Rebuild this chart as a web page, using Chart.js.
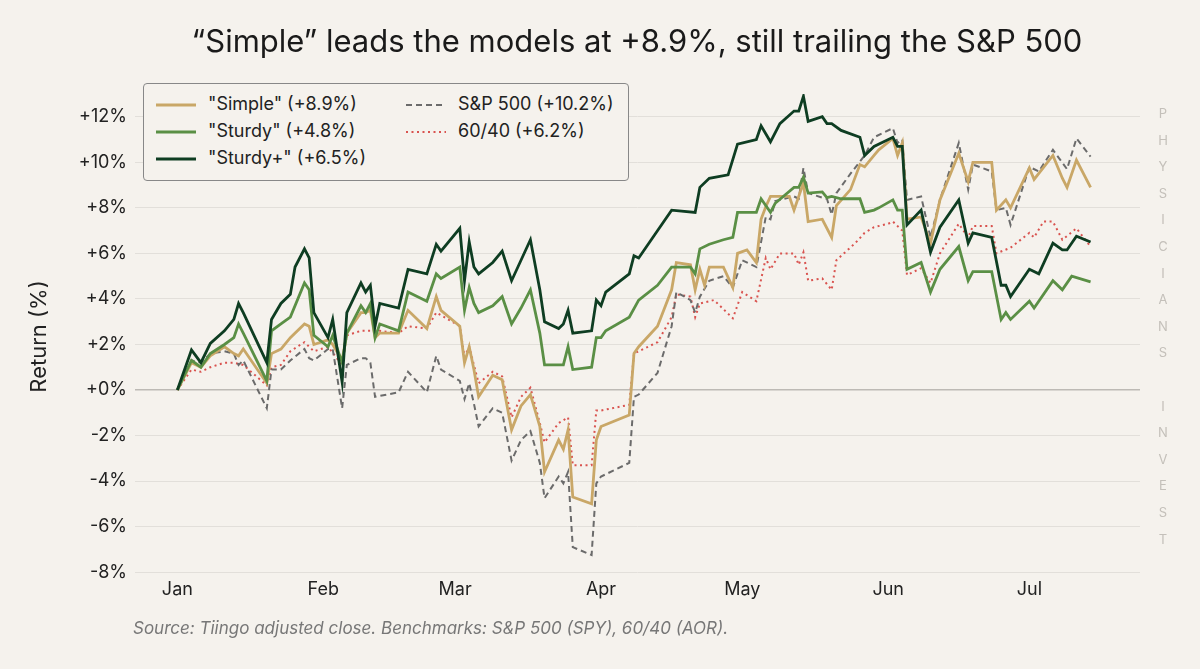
<!DOCTYPE html>
<html>
<head>
<meta charset="utf-8">
<script src="https://cdn.jsdelivr.net/npm/chart.js@4"></script>
<style>
  body { margin: 0; background: #f5f2ed; font-family: Inter, sans-serif; }
  #wrap { position: relative; width: 1200px; height: 669px; }
  #title { position: absolute; left: 0; width: 1274px; top: 22px; text-align: center; font-size: 31px; color: #1a1a1a; }
  #source { position: absolute; left: 133px; top: 618px; font-size: 17px; font-style: italic; color: #777; }
  #side { position: absolute; left: 1153px; top: 100px; width: 20px; font-size: 13px; color: #c4c0ba; text-align: center; line-height: 26.6px; }
  #legend { position: absolute; left: 143px; top: 83px; width: 484px; height: 96px; border: 1px solid #888; border-radius: 4px; background: #f5f2ed; }
  .item { position: absolute; font-size: 18px; color: #222; }
  .item svg { position: absolute; left: 0; top: 5px; }
  .item span { position: absolute; left: 52px; top: 0; white-space: nowrap; }
</style>
</head>
<body>
<div id="wrap">
  <canvas id="myChart" width="1200" height="669"></canvas>
  <div id="title">“Simple” leads the models at +8.9%, still trailing the S&amp;P 500</div>
  <div id="legend"></div>
  <div id="side"></div>
  <div id="source">Source: Tiingo adjusted close. Benchmarks: S&amp;P 500 (SPY), 60/40 (AOR).</div>
</div>
<script>
// x values are days since Jan 1
var monthStarts = [0, 31, 59, 90, 120, 151, 181];
var monthLabels = ['Jan', 'Feb', 'Mar', 'Apr', 'May', 'Jun', 'Jul'];
var yTicks = [-8, -6, -4, -2, 0, 2, 4, 6, 8, 10, 12];

var simpleDays = [0,3,5,7,10,12,13,14,19,20,22,24,27,28,29,32,33,35,36,39,40,41,42,43,47,49,53,55,56,60,61,62,63,64,67,69,71,73,75,77,78,81,82,83,84,88,89,90,96,97,98,102,105,106,109,110,111,112,113,116,118,119,121,123,124,125,126,130,131,133,134,137,139,140,143,145,146,148,149,152,153,154,155,158,160,162,166,168,169,173,174,176,177,181,182,186,188,189,191,194];
var simpleVals = [0,1.2,1.0,1.5,1.9,1.6,1.5,1.8,0.3,1.6,1.8,2.3,2.9,2.8,2.0,2.2,2.0,1.3,2.5,3.4,3.4,3.5,2.3,2.5,2.5,3.5,2.7,4.1,3.5,2.8,1.2,1.9,0.9,-0.3,0.65,0.45,-1.75,-0.7,-0.2,-1.6,-3.6,-2.2,-2.6,-1.75,-4.7,-5.0,-2.2,-1.6,-1.1,1.6,1.9,2.8,4.4,5.6,5.5,4.4,5.3,4.6,5.4,5.4,4.5,6.0,6.15,5.6,7.5,8.05,8.5,8.5,7.9,9.1,7.4,7.5,6.7,8.1,8.8,9.9,9.8,10.3,10.55,11.05,10.3,10.85,7.5,7.6,6.45,8.35,10.4,9.15,10.0,10.0,7.9,8.35,8.0,9.75,9.25,10.3,9.3,8.9,10.1,8.9];

var sturdyDays = [0,3,5,7,10,12,13,14,19,20,22,24,27,28,29,32,33,35,36,39,40,41,42,43,47,49,53,55,56,60,61,62,63,64,67,69,71,73,75,77,78,81,82,83,84,88,89,90,91,96,98,102,105,109,110,111,113,116,118,119,123,124,126,127,131,132,133,134,137,138,139,141,145,146,148,149,152,153,154,155,158,160,162,166,168,169,173,175,176,177,181,182,186,188,190,194];
var sturdyVals = [0,1.3,1.0,1.6,2.0,2.3,2.9,2.5,0.4,2.6,2.9,3.2,4.7,4.4,2.4,1.9,2.4,1.2,2.5,3.7,3.4,3.8,2.3,2.9,2.6,4.3,3.9,5.1,4.9,5.4,3.5,4.5,3.8,3.4,3.7,4.1,2.9,3.6,4.4,2.5,1.1,1.1,1.1,1.9,0.9,1.0,2.3,2.3,2.6,3.2,3.95,4.6,5.4,5.4,5.1,6.2,6.4,6.6,6.7,7.8,7.8,8.4,7.8,8.2,8.9,8.9,9.35,8.65,8.7,8.45,8.5,8.4,8.4,7.8,7.9,8.0,8.35,7.9,7.9,5.3,5.6,4.3,5.3,6.3,4.8,5.2,5.2,3.1,3.4,3.1,3.9,3.6,4.8,4.4,5.0,4.75];

var sturdyPlusDays = [0,3,5,7,10,12,13,14,19,20,22,24,25,27,28,29,32,33,35,36,39,40,41,42,43,47,49,53,55,56,60,61,62,63,64,67,69,71,73,75,77,78,81,82,83,84,88,89,90,91,96,97,98,101,105,110,111,113,117,119,123,124,126,128,131,132,133,134,137,138,139,141,145,146,148,152,153,154,155,158,160,162,166,168,169,173,175,176,177,181,183,186,188,189,191,194];
var sturdyPlusVals = [0,1.76,1.2,2.05,2.6,3.1,3.8,3.4,1.2,3.1,3.8,4.2,5.4,6.2,5.8,3.4,2.3,3.1,0.35,3.4,4.7,4.3,4.6,2.8,3.8,3.6,5.3,5.1,6.4,6.1,7.1,4.8,6.5,5.4,5.1,5.6,6.1,4.8,5.7,6.6,4.4,3.0,2.7,2.9,3.5,2.5,2.6,3.95,3.7,4.3,5.1,5.9,5.8,6.7,7.9,7.8,8.9,9.3,9.45,10.8,11.0,11.6,10.9,11.7,12.25,12.25,12.9,11.8,12.0,11.7,11.7,11.4,11.1,10.3,10.7,11.1,10.7,10.7,7.25,7.9,6.05,7.15,8.35,6.45,6.9,6.7,4.6,4.6,4.1,5.3,5.1,6.45,6.15,6.15,6.75,6.5];

var spyDays = [0,3,5,7,10,12,13,14,19,20,22,24,27,28,29,32,33,35,36,39,40,41,42,47,49,53,55,56,60,61,62,63,64,67,69,71,73,75,77,78,81,82,83,84,88,89,90,96,97,98,102,105,106,109,110,111,113,116,118,120,123,125,126,127,131,132,133,134,137,138,139,140,143,146,148,150,152,153,154,155,158,160,162,166,168,169,173,174,176,177,181,183,186,189,191,194];
var spyVals = [0,1.3,1.2,1.6,1.7,1.6,1.1,1.3,-0.8,0.9,0.9,1.3,1.8,1.4,1.3,1.8,1.8,-0.8,1.1,1.4,1.4,1.2,-0.3,-0.1,0.8,-0.1,1.5,0.9,0.4,-0.4,0.3,-0.6,-1.6,-0.8,-1.0,-3.1,-2.2,-1.8,-3.2,-4.75,-3.8,-4.1,-3.6,-6.9,-7.25,-4.1,-3.8,-3.2,-0.3,-0.2,0.75,2.8,4.3,3.95,3.4,4.1,4.8,5.0,4.5,5.7,5.4,7.6,7.5,8.3,8.5,8.4,9.75,8.65,8.45,8.4,7.7,8.65,9.5,10.3,11.1,11.3,11.5,10.85,11.0,8.35,8.5,6.7,8.35,10.85,8.8,9.9,9.6,7.9,8.0,7.25,9.8,9.6,10.55,9.7,11.05,10.25];

var balancedDays = [0,3,5,7,10,12,14,19,20,22,24,27,29,32,35,36,39,42,43,47,49,53,55,60,61,62,64,67,69,71,73,75,77,78,81,83,84,88,89,90,96,97,98,102,105,106,109,110,111,114,118,120,123,125,126,128,131,132,133,134,137,139,140,144,146,148,151,152,154,155,158,160,162,166,168,169,173,174,177,181,182,184,186,188,191,194];
var balancedVals = [0,0.9,0.8,1.0,1.2,1.2,1.1,0.2,1.0,1.1,1.7,2.1,1.7,1.9,1.1,2.4,2.6,2.6,2.6,2.5,2.8,2.7,3.4,2.8,1.45,1.9,0.3,0.8,0.6,-1.2,-0.3,0.1,-1.45,-2.3,-1.45,-1.2,-3.3,-3.3,-0.9,-0.9,-0.65,1.6,1.7,2.1,3.2,4.2,4.1,3.2,3.8,3.95,3.15,4.3,3.9,5.8,5.3,6.0,6.0,5.5,6.05,4.8,4.9,4.4,5.7,6.45,6.9,7.15,7.3,7.4,7.0,5.05,5.35,4.7,6.0,7.3,6.7,7.2,7.2,6.0,6.25,6.9,6.7,7.4,7.4,6.6,7.1,6.3];

function pts(days, vals) {
    return days.map(function (d, i) { return { x: d, y: vals[i] }; });
}

var series = [
    { label: '"Simple" (+8.9%)', data: pts(simpleDays, simpleVals), borderColor: '#c9a767', borderWidth: 2.8, borderDash: [], order: 3 },
    { label: '"Sturdy" (+4.8%)', data: pts(sturdyDays, sturdyVals), borderColor: '#5a8f45', borderWidth: 2.8, borderDash: [], order: 2 },
    { label: '"Sturdy+" (+6.5%)', data: pts(sturdyPlusDays, sturdyPlusVals), borderColor: '#0e3d22', borderWidth: 2.8, borderDash: [], order: 1 },
    { label: 'S&P 500 (+10.2%)', data: pts(spyDays, spyVals), borderColor: '#6b6b6b', borderWidth: 2, borderDash: [6, 4], order: 4 },
    { label: '60/40 (+6.2%)', data: pts(balancedDays, balancedVals), borderColor: '#d9534f', borderWidth: 2, borderDash: [2, 3.5], order: 5 }
];

var ctx = document.getElementById('myChart').getContext('2d');
var myChart = new Chart(ctx, {
    type: 'line',
    data: {
        datasets: series.map(function (s) {
            return Object.assign({ pointRadius: 0, tension: 0, fill: false }, s);
        })
    },
    options: {
        responsive: false,
        animation: false,
        layout: { padding: { top: 94, right: 60, left: 0, bottom: 0 } },
        plugins: { legend: { display: false }, tooltip: { enabled: false } },
        scales: {
            x: {
                type: 'linear',
                min: -9,
                max: 204.5,
                afterBuildTicks: function (scale) {
                    scale.ticks = monthStarts.map(function (v) { return { value: v }; });
                },
                afterFit: function (scale) { scale.height = 90; },
                ticks: {
                    autoSkip: false,
                    maxRotation: 0,
                    padding: 0,
                    color: '#222',
                    font: { family: 'Inter', size: 18 },
                    callback: function (v) { return monthLabels[monthStarts.indexOf(v)]; }
                },
                grid: { display: false, drawTicks: false },
                border: { display: false }
            },
            y: {
                min: -8.3,
                max: 13,
                afterBuildTicks: function (scale) {
                    scale.ticks = yTicks.map(function (v) { return { value: v }; });
                },
                afterFit: function (scale) { scale.width = 135; },
                title: {
                    display: true,
                    text: 'Return (%)',
                    color: '#222',
                    font: { family: 'Inter', size: 22 },
                    padding: { top: 26, bottom: 4 }
                },
                ticks: {
                    color: '#222',
                    padding: 8,
                    font: { family: 'Inter', size: 18 },
                    callback: function (v) { return (v < 0 ? '-' : '+') + Math.abs(v) + '%'; }
                },
                grid: {
                    drawTicks: false,
                    color: function (c) { return c.tick && c.tick.value === 0 ? '#bdbab5' : '#e2dfda'; },
                    lineWidth: function (c) { return c.tick && c.tick.value === 0 ? 1.5 : 1; }
                },
                border: { display: false }
            }
        }
    }
});

// legend
var legendPos = [[12, 9], [12, 36], [12, 63], [262, 9], [262, 36]];
var legend = document.getElementById('legend');
series.forEach(function (s, i) {
    var el = document.createElement('div');
    el.className = 'item';
    el.style.left = legendPos[i][0] + 'px';
    el.style.top = legendPos[i][1] + 'px';
    var dash = s.borderDash.length ? 'stroke-dasharray="' + s.borderDash.join(',') + '"' : '';
    el.innerHTML = '<svg width="40" height="14"><line x1="0" y1="7" x2="40" y2="7" stroke="' + s.borderColor +
        '" stroke-width="' + s.borderWidth + '" ' + dash + '/></svg><span></span>';
    el.querySelector('span').textContent = s.label;
    legend.appendChild(el);
});

// side watermark
var side = document.getElementById('side');
'PHYSICIANS INVEST'.split('').forEach(function (ch) {
    var d = document.createElement('div');
    d.innerHTML = ch === ' ' ? '&nbsp;' : ch;
    side.appendChild(d);
});
</script>
</body>
</html>
